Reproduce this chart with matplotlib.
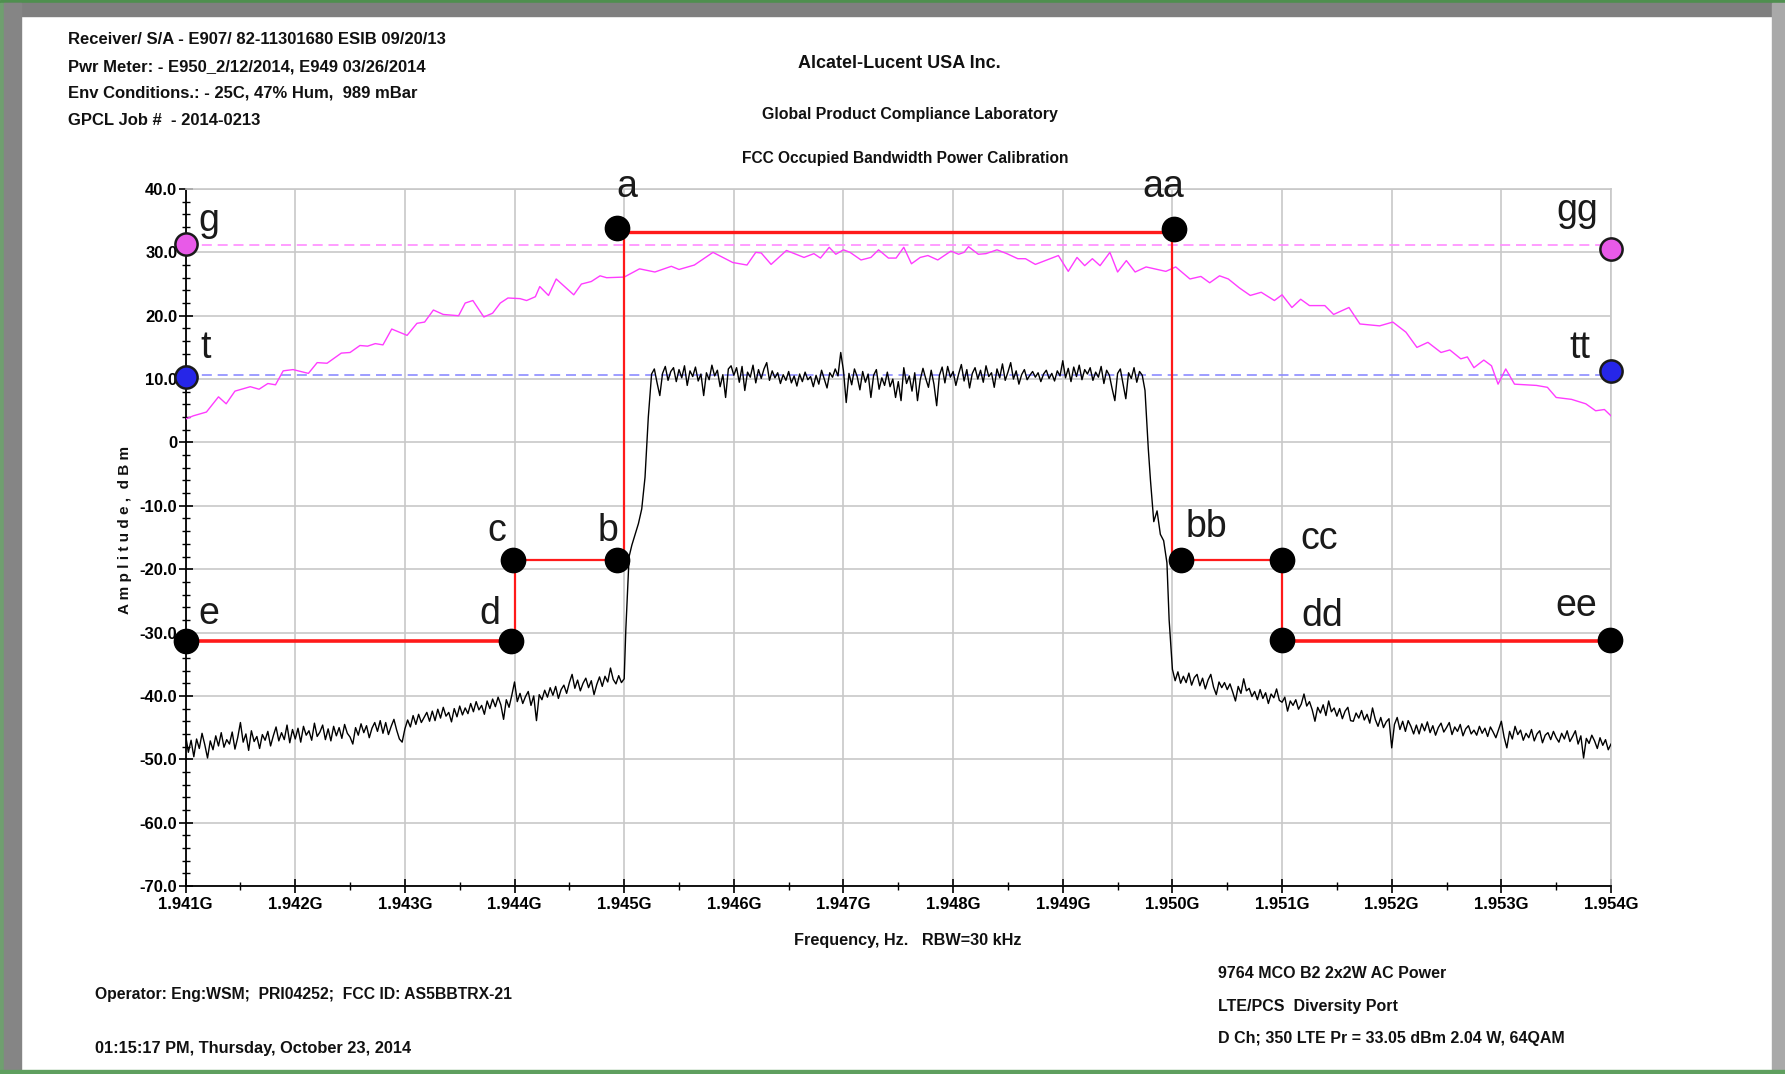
import numpy as np
import matplotlib
matplotlib.use('Agg')
import matplotlib.pyplot as plt
from matplotlib import font_manager
from matplotlib.patches import Rectangle
from matplotlib.ticker import MultipleLocator, FuncFormatter

# sweep 1.941 - 1.954 GHz
f_start = 1.941
f_stop = 1.954

# black trace (dBm) in pieces
noise_left = [
    -46.2, -48.9, -47.0, -49.6, -46.8, -48.3, -45.9, -47.7, -49.8, -47.1,
    -48.5, -46.3, -47.9, -45.8, -48.1, -46.9, -47.6, -45.7, -48.4, -46.6,
    -44.2, -47.3, -46.0, -48.6, -45.5, -47.2, -46.4, -48.3, -46.1, -47.0,
    -45.6, -47.9, -46.3, -44.9, -47.1, -45.8, -46.9, -44.6, -47.4, -45.3,
    -46.8, -45.1, -47.3, -44.8, -46.2, -45.5, -47.0, -44.3, -46.4, -45.7,
    -44.6, -46.9, -45.2, -47.1, -44.8, -46.3, -45.0, -46.7, -44.5, -45.9,
    -46.5, -47.6, -45.0, -46.2, -44.4, -45.8, -44.7, -46.6, -45.1, -44.2,
    -45.6, -43.9, -45.9, -44.2, -46.1, -44.8, -43.7, -45.4, -46.8, -47.3,
    -45.2, -43.8, -44.9, -43.1, -44.5, -42.9, -44.2, -43.4, -42.6, -44.0,
    -42.4, -43.9, -42.1, -43.5, -41.8, -43.2, -42.6, -44.1, -42.0, -43.3,
    -41.6, -43.0, -41.9, -42.8, -41.2, -42.5, -40.9, -42.2, -41.5, -42.9,
    -40.8, -42.0, -40.5, -41.7, -40.2, -41.4, -43.7, -40.6, -41.8, -39.9,
    -37.8, -40.9, -39.6, -41.2, -40.1, -39.3, -41.5, -40.0, -43.9, -39.8,
    -40.6, -39.1, -40.2, -38.7, -39.9, -38.5, -40.4, -39.0, -38.3, -39.6,
    -37.9, -36.6, -38.8, -37.5, -39.2, -38.0, -37.2, -38.7, -37.6, -39.8,
    -38.2, -37.0, -38.5, -36.9, -37.8, -35.6, -37.4, -38.1, -36.8, -37.9,
    -37.3]
edge_left_f = [1.945015, 1.945045, 1.94507, 1.94510, 1.94513, 1.94516, 1.94519, 1.94522]
edge_left = [-29.5, -18.0, -16.2, -14.5, -12.8, -10.5, -5.5, 4.0]
plateau = [
    10.8, 11.6, 9.4, 7.4, 10.9, 12.0, 9.8, 11.2, 11.8, 9.6,
    11.5, 10.2, 12.1, 9.0, 11.3, 10.4, 11.9, 9.7, 10.8, 7.4,
    11.0, 9.9, 12.2, 10.5, 11.4, 8.8, 10.7, 7.1, 11.6, 12.1,
    10.6, 11.8, 9.5, 12.0, 8.2, 11.1, 10.3, 12.2, 9.4, 11.5,
    10.1, 11.6, 12.6, 9.8, 11.3, 10.2, 11.0, 9.3, 10.7, 9.8,
    11.2, 9.4, 10.5, 8.9, 10.8, 9.6, 11.1, 9.9, 10.4, 8.8,
    10.6, 9.2, 11.4, 10.0, 8.6, 11.0, 10.3, 11.6, 10.5, 14.2,
    11.3, 6.3, 10.9, 9.1, 11.6, 10.4, 8.3, 11.2, 9.5, 10.8,
    7.1, 10.6, 11.5, 8.4, 10.2, 9.0, 11.1, 8.8, 10.0, 7.1,
    9.6, 6.6, 11.8, 9.3, 10.5, 8.1, 11.0, 6.6, 9.9, 11.7,
    10.1, 8.7, 11.4, 9.2, 5.8, 10.6, 11.9, 9.4, 12.0, 10.3,
    11.2, 9.0, 10.8, 12.3, 9.7, 11.5, 8.6, 10.9, 11.8, 10.0,
    11.4, 9.5, 12.1, 10.4, 11.0, 8.7, 11.6, 10.2, 12.4, 9.8,
    11.1, 12.6, 10.0, 11.3, 9.2, 10.7, 11.5, 9.9, 10.6, 11.2,
    10.3, 11.0, 9.6, 10.8, 11.4, 10.1, 10.9, 9.7, 11.3, 10.5,
    12.9, 10.2, 11.7, 9.6, 11.9, 10.4, 12.2, 9.9, 11.5, 10.8,
    11.8, 9.8, 11.1, 10.3, 12.0, 9.3, 11.4, 10.6, 8.5, 6.6,
    10.9, 11.6, 9.2, 6.9, 11.0, 10.1, 11.8, 9.5, 11.2, 10.6,
    8.2]
edge_right_f = [1.94978, 1.94980, 1.94983, 1.94986, 1.94989, 1.94992, 1.94995, 1.94997]
edge_right = [-1.0, -6.0, -12.5, -10.8, -14.5, -15.5, -19.0, -28.0]
noise_right = [
    -35.8, -37.6, -36.2, -38.0, -36.9, -37.9, -36.4, -38.3, -37.1, -36.6,
    -38.4, -37.2, -38.9, -37.5, -36.6, -38.6, -39.8, -37.8, -38.7, -37.9,
    -39.0, -38.1, -39.4, -40.8, -38.5, -39.6, -37.3, -39.2, -38.8, -40.1,
    -39.3, -40.6, -39.0, -40.4, -39.5, -41.2, -39.7, -40.3, -38.9, -40.7,
    -41.0, -40.2, -42.4, -40.8, -41.5, -40.6, -42.1, -41.3, -39.7, -41.6,
    -40.9, -42.2, -44.0, -41.8, -42.7, -41.4, -43.1, -40.8, -42.5, -41.9,
    -43.2, -42.0, -43.6, -42.4, -41.8, -43.9, -44.0, -42.7, -43.5, -42.3,
    -43.8, -42.9, -44.3, -41.9, -43.7, -44.8, -43.4, -45.0, -44.1, -43.6,
    -48.2, -44.5, -43.4, -45.3, -44.0, -45.6, -43.9, -44.8, -46.0, -44.6,
    -46.0, -44.4, -45.5, -44.1, -45.8, -44.7, -46.2, -45.0, -44.3, -45.7,
    -45.0, -44.2, -46.1, -44.9, -45.6, -44.5, -46.3, -45.2, -44.7, -46.0,
    -45.4, -46.2, -44.8, -45.9, -45.1, -46.4, -44.9, -45.7, -46.6, -45.3,
    -44.0, -46.5, -48.2, -45.6, -46.8, -44.8, -46.1, -45.4, -47.0, -45.9,
    -46.6, -45.3, -47.1, -46.0, -45.5, -47.4, -46.2, -45.8, -46.9, -45.6,
    -46.6, -47.3, -45.9, -46.8, -45.5, -47.2, -46.4, -45.5, -47.6, -46.3,
    -49.8, -46.7, -47.5, -46.2, -47.1, -48.3, -46.6, -47.8, -46.9, -48.5,
    -47.6]

# magenta trace: MHz above f_start, dBm
mag_mhz = [0.00, 0.07, 0.13, 0.19, 0.30, 0.37, 0.45, 0.59, 0.67, 0.75, 0.82, 0.89, 0.98,
           1.12, 1.20, 1.29, 1.42, 1.50, 1.59, 1.66, 1.73, 1.80, 1.88, 2.02, 2.11, 2.18,
           2.26, 2.35, 2.49, 2.55, 2.62, 2.72, 2.80, 2.87, 2.94, 3.05, 3.11, 3.19, 3.23,
           3.31, 3.38, 3.54, 3.61, 3.70, 3.78, 3.84, 4.00, 4.14, 4.28, 4.43, 4.50, 4.64,
           4.81, 4.99, 5.12, 5.20, 5.25, 5.34, 5.48, 5.64, 5.73, 5.79, 5.87, 5.93, 6.00,
           6.06, 6.16, 6.25, 6.32, 6.41, 6.48, 6.55, 6.62, 6.70, 6.77, 6.86, 6.98, 7.05,
           7.10, 7.14, 7.23, 7.30, 7.40, 7.49, 7.59, 7.66, 7.75, 7.84, 7.96, 8.05, 8.13,
           8.20, 8.27, 8.34, 8.43, 8.50, 8.58, 8.66, 8.76, 8.94, 9.03, 9.16, 9.26, 9.34,
           9.43, 9.51, 9.61, 9.71, 9.81, 9.93, 10.00, 10.09, 10.17, 10.25, 10.39, 10.47,
           10.61, 10.71, 10.89, 11.01, 11.13, 11.23, 11.33, 11.45, 11.53, 11.63, 11.69,
           11.75, 11.84, 11.91, 11.97, 12.04, 12.12, 12.32, 12.42, 12.50, 12.64, 12.77,
           12.86, 12.94, 13.00]
mag_dbm = [3.7, 4.2, 4.5, 4.8, 7.2, 6.1, 8.1, 8.8, 8.4, 9.3, 9.1, 11.3, 11.5,
           10.9, 12.6, 12.5, 14.1, 14.2, 15.3, 15.2, 15.6, 15.4, 17.9, 16.9, 18.8, 19.0,
           20.9, 20.2, 20.0, 22.0, 22.4, 19.8, 20.4, 22.0, 22.8, 22.7, 22.4, 23.0, 24.6,
           23.2, 25.8, 23.3, 25.0, 25.4, 26.3, 26.0, 26.1, 27.4, 26.9, 27.8, 27.3, 28.0,
           30.0, 28.4, 28.0, 30.0, 29.9, 28.1, 30.3, 29.2, 29.8, 29.1, 30.8, 29.7, 30.4,
           30.0, 28.8, 29.2, 30.4, 29.1, 29.1, 30.8, 28.2, 29.2, 29.5, 28.8, 30.2, 29.7,
           30.0, 30.9, 29.7, 29.8, 30.4, 29.8, 29.0, 29.0, 28.1, 28.7, 29.5, 27.0, 29.2,
           27.9, 29.0, 27.9, 30.0, 26.9, 28.7, 26.9, 27.7, 27.0, 27.7, 25.8, 26.2, 25.2,
           26.3, 25.8, 24.4, 23.2, 23.7, 22.4, 23.3, 21.3, 22.6, 21.6, 21.6, 20.2,
           21.3, 18.7, 18.4, 19.0, 17.4, 15.0, 15.8, 14.2, 14.6, 13.2, 13.5,
           11.8, 13.0, 12.1, 9.2, 11.6, 9.2, 9.0, 8.7, 7.1, 6.8, 6.1,
           5.0, 5.2, 4.2]

# reference levels (dashed) and their end markers
ref_g = 31.1
ref_t = 10.7
g_pts = [31.3, 30.6]
t_pts = [10.4, 11.3]

# red mask corners (MHz above f_start, dBm)
mask_left_mhz = [0.0, 3.0, 3.0, 4.0, 4.0]
mask_left_dbm = [-31.3, -31.3, -18.5, -18.5, 33.2]
mask_top_mhz = [3.93, 9.0]
mask_top_dbm = [33.2, 33.2]
mask_right_mhz = [9.0, 9.0, 10.0, 10.0, 13.0]
mask_right_dbm = [33.2, -18.5, -18.5, -31.3, -31.3]

# black marker dots
dot_mhz = [3.93, 9.01, 3.93, 2.99, 2.97, 0.0, 9.08, 10.0, 10.0, 12.99]
dot_dbm = [33.9, 33.7, -18.5, -18.5, -31.4, -31.3, -18.5, -18.5, -31.1, -31.2]

# marker letters: text, MHz, baseline dBm
letters = ['a', 'aa', 'g', 'gg', 't', 'tt', 'c', 'b', 'e', 'd', 'bb', 'cc', 'dd', 'ee']
letter_mhz = [4.02, 8.92, 0.21, 12.69, 0.18, 12.72, 2.84, 3.85, 0.21, 2.77, 9.31, 10.34, 10.37, 12.68]
letter_dbm = [38.8, 38.8, 33.4, 35.0, 13.4, 13.4, -15.5, -15.5, -28.7, -28.7, -15.0, -16.8, -29.0, -27.4]

header_left = ['Receiver/ S/A - E907/ 82-11301680 ESIB 09/20/13',
               'Pwr Meter: - E950_2/12/2014, E949 03/26/2014',
               'Env Conditions.: - 25C, 47% Hum,  989 mBar',
               'GPCL Job #  - 2014-0213']
footer_right = ['9764 MCO B2 2x2W AC Power',
                'LTE/PCS  Diversity Port',
                'D Ch; 350 LTE Pr = 33.05 dBm 2.04 W, 64QAM']

names = {f.name for f in font_manager.fontManager.ttflist}
NARROW = 'Liberation Sans Narrow' if 'Liberation Sans Narrow' in names else 'Liberation Sans'
narrow = dict(family=NARROW, weight='bold', color='#111111')


def ghz(mhz_list):
    return f_start + np.asarray(mhz_list) / 1000.0


W, H = 1785, 1074
fig = plt.figure(figsize=(W / 100, H / 100), dpi=100)
fig.patch.set_facecolor('white')

# window frame
def frame(x0, y0, x1, y1, c):
    fig.patches.append(Rectangle((x0 / W, 1 - y1 / H), (x1 - x0) / W, (y1 - y0) / H,
                                 transform=fig.transFigure, color=c, zorder=0))

frame(0, 0, W, 3, '#4f8f4f')
frame(4, 3, 1772, 16, '#7f7f7f')
frame(0, 3, 4, H, '#6f9f6f')
frame(4, 3, 21, 1070, '#858585')
frame(1772, 3, W, 1070, '#a9a9a9')
frame(0, 1070, W, H, '#5f9f5f')

ax = fig.add_axes([185.6 / W, 1 - 886 / H, (1611 - 185.6) / W, (886 - 189) / H])
ax.set_facecolor('white')
ax.set_xlim(f_start, f_stop)
ax.set_ylim(-70, 40)

ax.xaxis.set_major_locator(MultipleLocator(0.001))
ax.xaxis.set_minor_locator(MultipleLocator(0.0005))
ax.yaxis.set_major_locator(MultipleLocator(10))
ax.yaxis.set_minor_locator(MultipleLocator(2))
ax.xaxis.set_major_formatter(FuncFormatter(lambda v, p: '%.3fG' % v))
ax.yaxis.set_major_formatter(FuncFormatter(lambda v, p: '0' if abs(v) < 1e-9 else '%.1f' % v))
ax.tick_params(which='major', direction='inout', length=10, width=1.2, color='black')
ax.tick_params(which='minor', direction='inout', length=6, width=1.0, color='black')
ax.tick_params(axis='y', pad=1)
ax.tick_params(axis='x', pad=3)
for lab in ax.get_xticklabels() + ax.get_yticklabels():
    lab.set_fontfamily(NARROW)
    lab.set_fontweight('bold')
    lab.set_fontsize(12)
ax.grid(True, which='major', color='#c8c8c8', lw=1.2)
ax.set_axisbelow(True)
ax.spines['left'].set_linewidth(1.3)
ax.spines['bottom'].set_linewidth(1.3)
ax.spines['top'].set_color('#c8c8c8')
ax.spines['right'].set_color('#c8c8c8')
ax.spines['top'].set_linewidth(1.2)
ax.spines['right'].set_linewidth(1.2)

# black spectrum
trace_f = np.concatenate([np.linspace(f_start, 1.94500, len(noise_left)), edge_left_f,
                          np.linspace(1.94525, 1.94975, len(plateau)), edge_right_f,
                          np.linspace(1.95000, f_stop, len(noise_right))])
trace_v = np.concatenate([noise_left, edge_left, plateau, edge_right, noise_right])
ax.plot(trace_f, trace_v, color='black', lw=1.0, zorder=3)

# magenta trace and reference lines
ax.plot(ghz(mag_mhz), mag_dbm, color='#ff3cff', lw=1.0, zorder=3)
ax.axhline(ref_g, color='#ff8cff', lw=1.2, dashes=(6, 3.5), zorder=2)
ax.axhline(ref_t, color='#8c8cff', lw=1.2, dashes=(6, 3.5), zorder=2)

# red mask
ax.plot(ghz(mask_left_mhz[:2]), mask_left_dbm[:2], color='#ff1a1a', lw=2.6, zorder=4)
ax.plot(ghz(mask_left_mhz[1:]), mask_left_dbm[1:], color='#ff1a1a', lw=1.6, zorder=4)
ax.plot(ghz(mask_top_mhz), mask_top_dbm, color='#ff1a1a', lw=2.4, zorder=4)
ax.plot(ghz(mask_right_mhz[:4]), mask_right_dbm[:4], color='#ff1a1a', lw=1.6, zorder=4)
ax.plot(ghz(mask_right_mhz[3:]), mask_right_dbm[3:], color='#ff1a1a', lw=2.6, zorder=4)

# markers
ax.plot(ghz(dot_mhz), dot_dbm, 'o', ms=17.5, color='black', clip_on=False, zorder=6)
ax.plot(ghz([0.0, 13.0]), g_pts, 'o', ms=16, mfc='#e85ae8', mec='#1a1a1a', mew=1.8,
        clip_on=False, zorder=6)
ax.plot(ghz([0.0, 13.0]), t_pts, 'o', ms=16, mfc='#2626e8', mec='#1a1a1a', mew=1.8,
        clip_on=False, zorder=6)
for s, m, v in zip(letters, letter_mhz, letter_dbm):
    ax.text(ghz(m), v, s, family='Liberation Sans', fontsize=27, color='#1a1a1a',
            ha='center', va='baseline', clip_on=False, zorder=7)

# text blocks
for i, s in enumerate(header_left):
    fig.text(68 / W, 1 - (40 + 26.7 * i) / H, s, fontsize=12, ha='left', va='center', **narrow)
fig.text(899 / W, 1 - 63 / H, 'Alcatel-Lucent USA Inc.', fontsize=13, ha='center', va='center', **narrow)
fig.text(910 / W, 1 - 114 / H, 'Global Product Compliance Laboratory', fontsize=11.4,
         ha='center', va='center', **narrow)
fig.text(905 / W, 1 - 158 / H, 'FCC Occupied Bandwidth Power Calibration', fontsize=11.2,
         ha='center', va='center', **narrow)
fig.text(908 / W, 1 - 941 / H, 'Frequency, Hz.   RBW=30 kHz', fontsize=11.7,
         ha='center', va='center', **narrow)
fig.text(125 / W, 1 - 530 / H, 'A m p l i t u d e ,  d B m', fontsize=11, rotation=90,
         ha='center', va='center', **narrow)
fig.text(94.5 / W, 1 - 994 / H, 'Operator: Eng:WSM;  PRI04252;  FCC ID: AS5BBTRX-21',
         fontsize=11.3, ha='left', va='center', **narrow)
fig.text(94.5 / W, 1 - 1048 / H, '01:15:17 PM, Thursday, October 23, 2014',
         fontsize=11.8, ha='left', va='center', **narrow)
for i, s in enumerate(footer_right):
    fig.text(1218 / W, 1 - (974 + 32 * i) / H, s, fontsize=11.5, ha='left', va='center', **narrow)

fig.savefig('out.png', dpi=100)
